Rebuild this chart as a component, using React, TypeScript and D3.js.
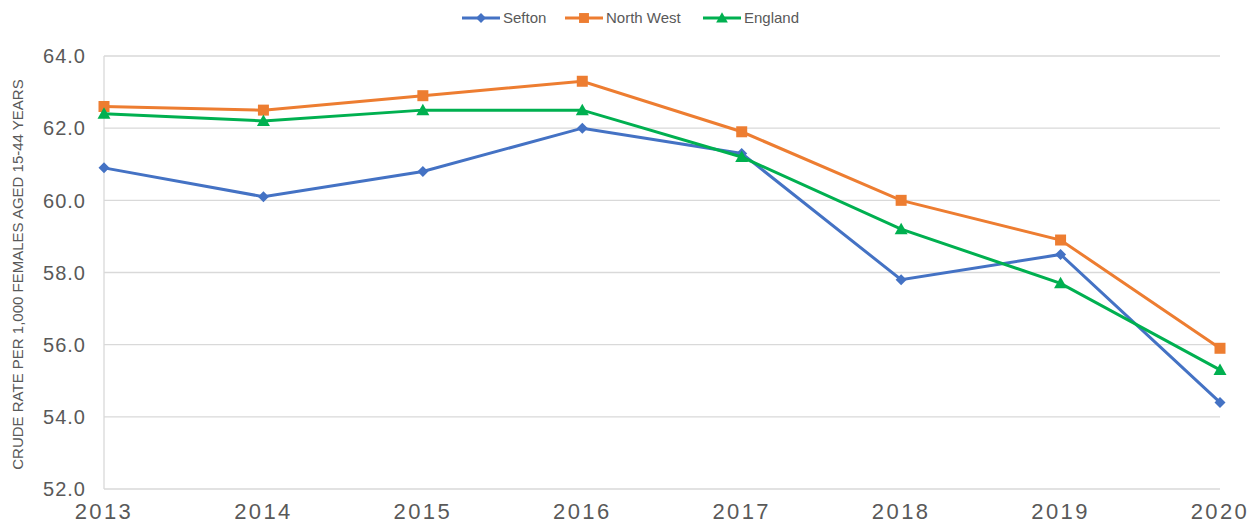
import * as d3 from "d3";
import { useEffect, useRef } from "react";

const years = ["2013", "2014", "2015", "2016", "2017", "2018", "2019", "2020"];
const sefton = [60.9, 60.1, 60.8, 62.0, 61.3, 57.8, 58.5, 54.4];
const northWest = [62.6, 62.5, 62.9, 63.3, 61.9, 60.0, 58.9, 55.9];
const england = [62.4, 62.2, 62.5, 62.5, 61.2, 59.2, 57.7, 55.3];
const yTicks = [52, 54, 56, 58, 60, 62, 64];

const seriesList = [
  { name: "Sefton", values: sefton, color: "#4472C4", marker: "diamond" },
  { name: "North West", values: northWest, color: "#ED7D31", marker: "square" },
  { name: "England", values: england, color: "#00B050", marker: "triangle" },
];

const WIDTH = 1250;
const HEIGHT = 524;

const markerPath = (kind: string) => {
  if (kind === "diamond") return "M0,-5.5L5.5,0L0,5.5L-5.5,0Z";
  if (kind === "square") return "M-5.5,-5.5H5.5V5.5H-5.5Z";
  return "M0,-6.5L6.5,5L-6.5,5Z";
};

const drawChart = (target: any) => {
  const margins = { top: 56, left: 104, right: 30, bottom: 35 };
  const svg = d3
    .create("svg")
    .attr("width", WIDTH)
    .attr("height", HEIGHT)
    .style("position", "absolute")
    .style("left", "0px")
    .style("top", "0px")
    .style("background", "#fff")
    .style("font-family", "'Liberation Sans', Arial, sans-serif");

  const xScale = d3
    .scalePoint()
    .domain(years)
    .range([margins.left, WIDTH - margins.right]);
  const yScale = d3
    .scaleLinear()
    .domain([52, 64])
    .range([HEIGHT - margins.bottom, margins.top]);

  // gridlines
  svg
    .append("g")
    .selectAll("line")
    .data(yTicks)
    .join("line")
    .attr("x1", margins.left)
    .attr("x2", WIDTH - margins.right)
    .attr("y1", (d) => yScale(d))
    .attr("y2", (d) => yScale(d))
    .attr("stroke", "#d9d9d9")
    .attr("stroke-width", 1.3);

  // left axis line
  svg
    .append("line")
    .attr("x1", margins.left)
    .attr("x2", margins.left)
    .attr("y1", yScale(64))
    .attr("y2", yScale(52))
    .attr("stroke", "#d9d9d9")
    .attr("stroke-width", 1.3);

  // y tick labels
  svg
    .append("g")
    .selectAll("text")
    .data(yTicks)
    .join("text")
    .attr("x", 86)
    .attr("y", (d) => yScale(d))
    .attr("dy", "0.36em")
    .attr("text-anchor", "end")
    .attr("font-size", 20)
    .attr("letter-spacing", 1)
    .attr("fill", "#595959")
    .text((d) => d3.format(".1f")(d));

  // x tick labels
  svg
    .append("g")
    .selectAll("text")
    .data(years)
    .join("text")
    .attr("x", (d) => xScale(d)!)
    .attr("y", 519)
    .attr("text-anchor", "middle")
    .attr("font-size", 22)
    .attr("letter-spacing", 2.4)
    .attr("fill", "#595959")
    .text((d) => d);

  // y axis title
  svg
    .append("text")
    .attr("transform", `translate(23,${(yScale(52) + yScale(64)) / 2 + 2}) rotate(-90)`)
    .attr("text-anchor", "middle")
    .attr("font-size", 15)
    .attr("fill", "#595959")
    .text("CRUDE RATE PER 1,000 FEMALES AGED 15-44 YEARS");

  const line = d3
    .line<number>()
    .x((_, i) => xScale(years[i])!)
    .y((d) => yScale(d));

  seriesList.forEach((s) => {
    const g = svg.append("g");
    g.append("path")
      .attr("d", line(s.values))
      .attr("fill", "none")
      .attr("stroke", s.color)
      .attr("stroke-width", 3);
    g.selectAll("path.marker")
      .data(s.values)
      .join("path")
      .attr("class", "marker")
      .attr("d", markerPath(s.marker))
      .attr("transform", (d, i) => `translate(${xScale(years[i])},${yScale(d)})`)
      .attr("fill", s.color);
  });

  // legend
  const legendX = [462, 565, 703];
  const legend = svg.append("g");
  seriesList.forEach((s, i) => {
    const lg = legend.append("g").attr("transform", `translate(${legendX[i]},18)`);
    lg.append("line")
      .attr("x1", 0)
      .attr("x2", 38)
      .attr("stroke", s.color)
      .attr("stroke-width", 3);
    lg.append("path")
      .attr("d", markerPath(s.marker))
      .attr("transform", "translate(19,0) scale(0.9)")
      .attr("fill", s.color);
    lg.append("text")
      .attr("x", 41)
      .attr("dy", "0.35em")
      .attr("font-size", 15)
      .attr("fill", "#595959")
      .text(s.name);
  });

  const targetAccess = d3.select(target);
  targetAccess.selectAll("svg").remove();
  targetAccess.append(() => svg.node());
};

const App = () => {
  const targetRef = useRef<HTMLDivElement>(null);
  useEffect(() => {
    if (targetRef.current) drawChart(targetRef.current);
  }, []);
  return <div style={{ width: WIDTH, height: HEIGHT }} ref={targetRef} />;
};

export default App;
